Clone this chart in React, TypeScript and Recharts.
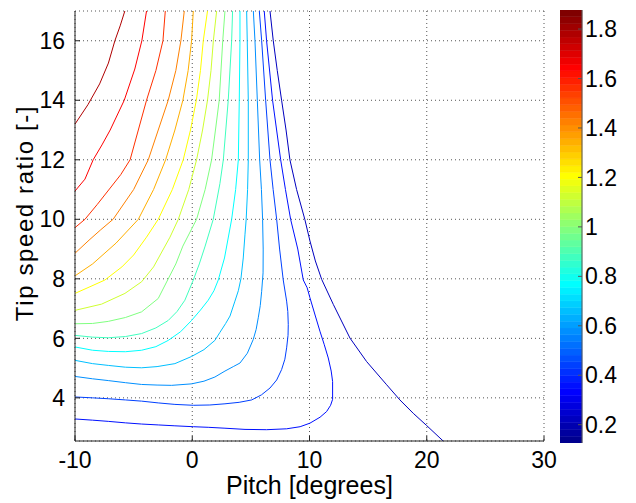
import React from 'react'
import { LineChart, Line, XAxis, YAxis, CartesianGrid, BarChart, Bar } from 'recharts'

// contour levels, one per line (high Cp top-left, low Cp right)
const levels = [1.768, 1.658, 1.549, 1.439, 1.33, 1.22, 1.111, 1.001, 0.892, 0.782, 0.673, 0.564, 0.454, 0.345, 0.235]

// contour paths as [pitch, tip speed ratio]
const c1 = [[-10, 13.2], [-8.9, 13.85], [-7.9, 14.55], [-7.15, 15.25], [-6.6, 16], [-6.15, 16.5], [-5.75, 17]]
const c2 = [[-10, 10.95], [-9.15, 11.35], [-8.45, 12], [-7.7, 12.5], [-7.0, 13], [-5.8, 14], [-4.9, 15.05], [-4.3, 16], [-3.9, 17]]
const c3 = [[-10, 9.72], [-9.15, 10], [-8.1, 10.5], [-7.0, 11.05], [-6.1, 11.5], [-5.3, 12], [-4.6, 13], [-3.9, 14], [-3.1, 15], [-2.5, 16], [-2.3, 17]]
const c4 = [[-10, 8.86], [-8.8, 9.3], [-7.8, 9.65], [-6.75, 10], [-5.0, 11], [-3.75, 12], [-2.9, 13], [-2.05, 14], [-1.4, 15], [-0.97, 16], [-0.68, 17]]
const c5 = [[-10, 8.1], [-8.5, 8.5], [-6.5, 9.2], [-4.6, 10], [-3.3, 11], [-2.27, 12], [-1.48, 13], [-0.8, 14], [-0.35, 15], [-0.06, 16], [0.09, 17]]
const c6 = [[-10, 7.51], [-8.8, 7.72], [-7.45, 7.96], [-6.0, 8.4], [-5.0, 8.8], [-3.9, 9.4], [-2.9, 10], [-1.7, 11], [-0.77, 12], [-0.15, 13], [0.35, 14], [0.7, 15], [0.94, 16], [1.3, 17]]
const c7 = [[-10, 6.94], [-7.73, 7.15], [-5.74, 7.51], [-4.32, 7.9], [-3.3, 8.4], [-2.6, 8.9], [-1.9, 9.4], [-1.19, 10], [-0.3, 11], [0.37, 12], [0.88, 13], [1.3, 14], [1.6, 15], [1.8, 16], [2.08, 17]]
const c8 = [[-10, 6.49], [-8.5, 6.5], [-7.16, 6.57], [-5.7, 6.7], [-4.32, 6.89], [-2.9, 7.34], [-2.1, 7.96], [-1.4, 8.5], [-0.8, 9.1], [0.37, 10], [1.1, 11], [1.65, 12], [1.98, 13], [2.3, 14], [2.6, 16], [2.79, 17]]
const c9 = [[-10, 6.1], [-8.5, 6.04], [-7.16, 6.02], [-5.7, 6.06], [-4.32, 6.16], [-3.1, 6.35], [-2.05, 6.6], [-1.3, 6.9], [-0.63, 7.28], [0.09, 7.96], [0.6, 8.5], [1.1, 9.1], [1.79, 10], [2.36, 11.2], [2.65, 12], [3.07, 14], [3.36, 16], [3.44, 17]]
const c10 = [[-10, 5.71], [-8.5, 5.6], [-7.16, 5.56], [-5.7, 5.55], [-4.32, 5.6], [-3.1, 5.72], [-2.05, 5.93], [-1.0, 6.22], [-0.06, 6.6], [0.7, 6.95], [1.36, 7.28], [1.85, 7.6], [2.22, 7.96], [2.75, 8.7], [3.36, 10], [3.7, 11], [3.93, 12], [4.01, 14], [4.07, 16], [4.07, 17]]
const c11 = [[-10, 5.26], [-8.5, 5.15], [-7.16, 5.09], [-5.7, 5.03], [-4.32, 5.01], [-3.0, 5.05], [-1.48, 5.15], [-0.06, 5.39], [1.0, 5.62], [1.93, 5.93], [2.36, 6.2], [2.85, 6.5], [3.22, 6.75], [3.64, 7.25], [3.93, 7.6], [4.15, 8.0], [4.35, 8.7], [4.5, 9.5], [4.6, 10], [4.72, 11], [4.78, 12], [4.78, 14], [4.69, 16], [4.64, 17]]
const c12 = [[-10, 4.72], [-8.5, 4.64], [-7.16, 4.58], [-5.7, 4.51], [-4.32, 4.45], [-3.0, 4.43], [-1.76, 4.42], [-0.06, 4.47], [1.0, 4.56], [1.93, 4.7], [2.79, 4.9], [3.5, 5.05], [4.07, 5.17], [4.7, 5.5], [5.2, 5.96], [5.45, 6.3], [5.63, 6.69], [5.8, 7.1], [5.92, 7.58], [6.04, 8.2], [6.05, 9], [6.0, 10], [5.9, 11], [5.75, 12], [5.55, 14], [5.35, 16], [5.21, 17]]
const c13 = [[-10, 4.03], [-8.5, 4.0], [-7.16, 3.97], [-5.7, 3.93], [-4.32, 3.89], [-2.9, 3.83], [-1.48, 3.78], [0.09, 3.75], [1.5, 3.76], [2.79, 3.8], [4.0, 3.85], [5.07, 3.93], [5.9, 4.1], [6.63, 4.33], [7.2, 4.6], [7.62, 4.95], [7.9, 5.3], [8.05, 5.68], [8.17, 6.1], [8.19, 6.46], [8.15, 6.9], [8.05, 7.25], [7.76, 7.96], [7.45, 9], [7.2, 10], [6.9, 11], [6.63, 12], [6.26, 14], [5.92, 16], [5.72, 17]]
const c14 = [[-10, 3.29], [-8.5, 3.25], [-7.16, 3.21], [-5.7, 3.16], [-4.32, 3.12], [-2.9, 3.09], [-1.48, 3.06], [0.09, 3.03], [1.36, 3.01], [2.79, 2.98], [4.5, 2.94], [6.34, 2.93], [8.05, 2.96], [9.2, 3.03], [10.04, 3.15], [10.9, 3.35], [11.46, 3.54], [11.8, 3.75], [11.97, 3.95], [11.97, 4.55], [11.85, 4.9], [11.6, 5.34], [11.25, 5.8], [10.89, 6.24], [10.5, 6.75], [10.04, 7.36], [9.8, 7.7], [9.47, 7.96], [9.0, 9.0], [8.39, 10], [7.95, 11], [7.54, 12], [6.85, 14], [6.34, 16], [6.14, 17]]
const c15 = [[6.63, 17], [6.91, 16], [7.25, 15], [7.62, 14], [8.0, 13], [8.33, 12], [8.9, 11], [9.6, 10], [10.04, 9.27], [10.5, 8.6], [11.04, 7.98], [12.03, 7.14], [13.45, 6.01], [14.87, 5.22], [16.58, 4.44], [17.71, 3.93], [18.85, 3.48], [19.99, 3.07], [21.4, 2.55]]

const contours = [c1, c2, c3, c4, c5, c6, c7, c8, c9, c10, c11, c12, c13, c14, c15]

const xTicks = [-10, 0, 10, 20, 30]
const yTicks = [4, 6, 8, 10, 12, 14, 16]
const cbTicks = [0.2, 0.4, 0.6, 0.8, 1, 1.2, 1.4, 1.6, 1.8]
const cMin = 0.126
const cMax = 1.877

const FONT = '"Liberation Sans", Arial, sans-serif'
const FS = 23

// matlab jet(64), 1-based index
function jet(i: number) {
  const u = (k: number) => (k < 1 || k > 47 ? 0 : k <= 16 ? k / 16 : k <= 31 ? 1 : (48 - k) / 16)
  const c = (v: number) => Math.round(v * 255)
  return `rgb(${c(u(i - 24))},${c(u(i - 8))},${c(u(i + 8))})`
}

function levelColor(v: number) {
  const idx = Math.min(64, Math.floor(((v - cMin) / (cMax - cMin)) * 64) + 1)
  return jet(idx)
}

const nBands = 64
const bandStep = (cMax - cMin) / nBands
const cbRow: Record<string, number | string> = { name: 'cb', base: cMin }
for (let i = 0; i < nBands; i++) cbRow[`s${i}`] = bandStep
const cbData = [cbRow]

const XLabel = () => (
  <text x={309.5} y={494} textAnchor="middle" fontSize={25} fill="#000" fontFamily={FONT}>
    Pitch [degrees]
  </text>
)

const YLabel = () => (
  <text x={24} y={213} transform="rotate(-90, 24, 213)" textAnchor="middle" dominantBaseline="central" fontSize={24} letterSpacing={1.6} fill="#000" fontFamily={FONT}>
    Tip speed ratio [-]
  </text>
)

export default function App() {
  const tickStyle = { fontSize: FS, fill: '#000', fontFamily: FONT }
  return (
    <div style={{ position: 'absolute', left: 0, top: 0, width: 636, height: 503, background: '#fff', fontFamily: FONT }}>
      <div style={{ position: 'absolute', left: 0, top: 0 }}>
        <LineChart width={636} height={503} margin={{ top: 11, right: 92, bottom: 0, left: 0 }}>
          <CartesianGrid stroke="#555" strokeDasharray="1 3" />
          <XAxis
            dataKey="x"
            type="number"
            domain={[-10, 30]}
            ticks={xTicks}
            allowDataOverflow
            interval={0}
            height={62}
            tickSize={-5}
            tickMargin={16}
            tick={tickStyle}
            stroke="#222"
            label={<XLabel />}
          />
          <XAxis
            xAxisId="top"
            orientation="top"
            type="number"
            domain={[-10, 30]}
            ticks={xTicks}
            height={0}
            tickSize={-5}
            tick={false}
            stroke="#222"
          />
          <YAxis
            type="number"
            domain={[2.55, 17]}
            ticks={yTicks}
            allowDataOverflow
            interval={0}
            width={75}
            tickSize={-5}
            tickMargin={15}
            tick={tickStyle}
            stroke="#222"
            label={<YLabel />}
          />
          <YAxis
            yAxisId="right"
            orientation="right"
            type="number"
            domain={[2.55, 17]}
            ticks={yTicks}
            width={0}
            tickSize={-5}
            tick={false}
            stroke="#222"
          />
          {contours.map((pts, i) => (
            <Line
              key={`c${i}`}
              name={`Cp ${levels[i]}`}
              data={pts.map(([x, y]) => ({ x, y }))}
              dataKey="y"
              type="linear"
              stroke={levelColor(levels[i])}
              strokeWidth={1}
              dot={false}
              activeDot={false}
              isAnimationActive={false}
            />
          ))}
        </LineChart>
      </div>
      <div style={{ position: 'absolute', left: 560, top: 0 }}>
        <BarChart width={76} height={503} data={cbData} margin={{ top: 10, right: 0, bottom: 60, left: 0 }} barCategoryGap={0} barGap={0}>
          <XAxis dataKey="name" height={0} tick={false} tickLine={false} stroke="#555" />
          <XAxis xAxisId="top" dataKey="name" orientation="top" height={0} tick={false} tickLine={false} stroke="#555" />
          <YAxis
            yAxisId="l"
            type="number"
            domain={[cMin, cMax]}
            ticks={cbTicks}
            allowDataOverflow
            width={0}
            tickSize={-4}
            tick={false}
            stroke="#555"
          />
          <YAxis
            yAxisId="r"
            orientation="right"
            type="number"
            domain={[cMin, cMax]}
            ticks={cbTicks}
            allowDataOverflow
            interval={0}
            width={54}
            tickSize={-4}
            tickMargin={7}
            tick={tickStyle}
            stroke="#555"
          />
          <Bar yAxisId="l" dataKey="base" stackId="cb" fill="transparent" isAnimationActive={false} />
          {Array.from({ length: nBands }, (_, i) => (
            <Bar
              key={`s${i}`}
              yAxisId="l"
              dataKey={`s${i}`}
              stackId="cb"
              fill={jet(i + 1)}
              stroke={jet(i + 1)}
              strokeWidth={0.5}
              isAnimationActive={false}
            />
          ))}
        </BarChart>
      </div>
    </div>
  )
}
